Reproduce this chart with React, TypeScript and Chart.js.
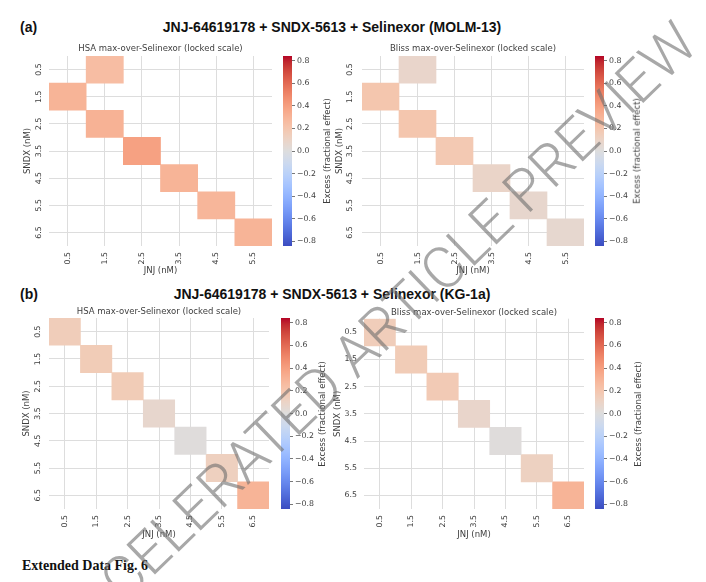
import React, { useEffect, useRef } from "react";
import { Chart, registerables } from "chart.js";

Chart.register(...registerables);

// ---------------- DATA ----------------
const SNDX_LABELS = ["0.5", "1.5", "2.5", "3.5", "4.5", "5.5", "6.5"];
const JNJ_LABELS_MOLM = ["0.5", "1.5", "2.5", "3.5", "4.5", "5.5"];
const JNJ_LABELS_KG = ["0.5", "1.5", "2.5", "3.5", "4.5", "5.5", "6.5"];
const CBAR_TICKS = [-0.8, -0.6, -0.4, -0.2, 0, 0.2, 0.4, 0.6, 0.8];
const V_LIMIT = 0.84;

// rows = SNDX, cols = JNJ
const molmHsa: (number | null)[][] = [
  [null, 0.25, null, null, null, null],
  [0.3, null, null, null, null, null],
  [null, 0.31, null, null, null, null],
  [null, null, 0.39, null, null, null],
  [null, null, null, 0.3, null, null],
  [null, null, null, null, 0.29, null],
  [null, null, null, null, null, 0.3],
];
const molmBliss: (number | null)[][] = [
  [null, 0.08, null, null, null, null],
  [0.2, null, null, null, null, null],
  [null, 0.2, null, null, null, null],
  [null, null, 0.18, null, null, null],
  [null, null, null, 0.09, null, null],
  [null, null, null, null, 0.07, null],
  [null, null, null, null, null, 0.06],
];
const kgHsa: (number | null)[][] = [
  [0.15, null, null, null, null, null, null],
  [null, 0.16, null, null, null, null, null],
  [null, null, 0.16, null, null, null, null],
  [null, null, null, 0.07, null, null, null],
  [null, null, null, null, 0.01, null, null],
  [null, null, null, null, null, 0.13, null],
  [null, null, null, null, null, null, 0.3],
];
const kgBliss: (number | null)[][] = [
  [0.15, null, null, null, null, null, null],
  [null, 0.16, null, null, null, null, null],
  [null, null, 0.17, null, null, null, null],
  [null, null, null, 0.08, null, null, null],
  [null, null, null, null, 0.01, null, null],
  [null, null, null, null, null, 0.12, null],
  [null, null, null, null, null, null, 0.3],
];

// ---------------- STYLE ----------------
const FONT = "'DejaVu Sans', sans-serif";
const TEXT = "#3e3e3e";
const TICK_SIZE = 7.8;
const LABEL_SIZE = 8.5;
const GRID = "#dddddd";

const COOLWARM: number[][] = [
  [59, 76, 192], [68, 90, 204], [77, 104, 215], [87, 117, 225], [98, 130, 234],
  [108, 142, 241], [119, 154, 247], [130, 165, 251], [141, 176, 254], [152, 185, 255],
  [163, 194, 255], [174, 201, 253], [184, 208, 249], [194, 213, 244], [204, 217, 238],
  [213, 219, 230], [221, 221, 221], [229, 216, 209], [236, 211, 197], [241, 204, 184],
  [245, 196, 172], [247, 187, 160], [247, 177, 148], [247, 166, 135], [244, 154, 123],
  [241, 141, 111], [236, 127, 99], [229, 112, 88], [222, 96, 77], [213, 80, 66],
  [203, 62, 56], [192, 40, 47], [180, 4, 38],
];

function cw(t: number): string {
  const tt = Math.max(0, Math.min(1, t)) * (COOLWARM.length - 1);
  const i = Math.min(Math.floor(tt), COOLWARM.length - 2);
  const f = tt - i;
  const a = COOLWARM[i], b = COOLWARM[i + 1];
  const c = a.map((x, k) => Math.round(x + (b[k] - x) * f));
  return `rgb(${c[0]},${c[1]},${c[2]})`;
}
function colorFor(v: number): string {
  return cw((v + V_LIMIT) / (2 * V_LIMIT));
}
function fmt(v: number): string {
  return (v < -1e-9 ? "\u2212" : "") + Math.abs(v).toFixed(1);
}

type Rect = { l: number; t: number; r: number; b: number };

type HeatProps = {
  plot: Rect;
  xLabels: string[];
  yLabels: string[];
  values: (number | null)[][];
  title: string;
  rotateY: boolean;
  yTitleX: number;
  titleY: number;
  xTitleY: number;
  yTickPad: number;
  xTickPad: number;
};

function Heatmap(p: HeatProps) {
  const ref = useRef<HTMLCanvasElement>(null);
  const lh = LABEL_SIZE * 1.2;
  const cl = Math.round(p.yTitleX - lh / 2);
  const ct = Math.round(p.titleY - lh / 2);
  const cr = p.plot.r;
  const cb = Math.round(p.xTitleY + lh / 2);
  const w = cr - cl;
  const h = cb - ct;
  const yAxisW = p.plot.l - cl;
  const xAxisH = cb - p.plot.b;
  const titlePadBottom = Math.max(0, p.plot.t - ct - lh);

  useEffect(() => {
    const tickFont = { family: FONT, size: TICK_SIZE };
    const labelFont = { family: FONT, size: LABEL_SIZE };
    const chart = new Chart(ref.current!, {
      type: "bar",
      data: {
        labels: p.xLabels,
        datasets: p.values.map((row, r) => ({
          data: row.map((v) => (v == null ? null : [r - 0.5, r + 0.5])) as any,
          backgroundColor: row.map((v) => (v == null ? "rgba(0,0,0,0)" : colorFor(v))),
          borderWidth: 0,
          barPercentage: 1,
          categoryPercentage: 1,
          grouped: false,
        })),
      },
      options: {
        responsive: false,
        animation: false,
        devicePixelRatio: 1,
        layout: { padding: 0 },
        plugins: {
          legend: { display: false },
          tooltip: { enabled: false },
          title: {
            display: true,
            text: p.title,
            fullSize: false,
            color: TEXT,
            font: { family: FONT, size: LABEL_SIZE, weight: "normal" },
            padding: { top: 0, bottom: titlePadBottom },
          },
        },
        scales: {
          x: {
            type: "category",
            offset: true,
            grid: { offset: false, color: GRID, lineWidth: 1, drawTicks: false },
            border: { display: false },
            ticks: {
              font: tickFont,
              color: TEXT,
              padding: p.xTickPad,
              minRotation: 90,
              maxRotation: 90,
              autoSkip: false,
            },
            title: { display: true, text: "JNJ (nM)", font: labelFont, color: TEXT, padding: 0 },
            afterFit: (s: any) => {
              s.height = xAxisH;
            },
          },
          y: {
            type: "linear",
            min: -0.5,
            max: p.yLabels.length - 0.5,
            reverse: true,
            afterBuildTicks: (s: any) => {
              s.ticks = p.yLabels.map((_, i) => ({ value: i }));
            },
            grid: { color: GRID, lineWidth: 1, drawTicks: false },
            border: { display: false },
            ticks: {
              font: tickFont,
              color: TEXT,
              padding: p.yTickPad,
              minRotation: p.rotateY ? 90 : 0,
              maxRotation: p.rotateY ? 90 : 0,
              crossAlign: p.rotateY ? "center" : "near",
              autoSkip: false,
              callback: (_v: any, i: number) => p.yLabels[i],
            },
            title: { display: true, text: "SNDX (nM)", font: labelFont, color: TEXT, padding: 0 },
            afterFit: (s: any) => {
              s.width = yAxisW;
            },
          },
        },
      } as any,
    });
    return () => chart.destroy();
  }, []);

  return (
    <canvas
      ref={ref}
      width={w}
      height={h}
      style={{ position: "absolute", left: cl, top: ct, width: w, height: h }}
    />
  );
}

type CbarProps = { l: number; r: number; t: number; b: number; labelX: number };

function Colorbar(p: CbarProps) {
  const ref = useRef<HTMLCanvasElement>(null);
  const pad = 8;
  const W = 44;
  const barW = p.r - p.l;
  const H = p.b - p.t + 2 * pad;
  useEffect(() => {
    const chart = new Chart(ref.current!, {
      type: "bar",
      data: {
        labels: [""],
        datasets: [
          {
            data: [[-V_LIMIT, V_LIMIT]] as any,
            borderWidth: 0,
            barPercentage: 1,
            categoryPercentage: 1,
            backgroundColor: (ctx: any) => {
              const c = ctx.chart;
              const ys = c.scales.y;
              if (!c.chartArea || !ys) return "#ddd";
              const y0 = ys.getPixelForValue(-V_LIMIT);
              const y1 = ys.getPixelForValue(V_LIMIT);
              const g = c.ctx.createLinearGradient(0, y0, 0, y1);
              COOLWARM.forEach((_, i) => {
                const t = i / (COOLWARM.length - 1);
                g.addColorStop(t, cw(t));
              });
              return g;
            },
          },
        ],
      },
      options: {
        responsive: false,
        animation: false,
        devicePixelRatio: 1,
        layout: { padding: { top: pad, bottom: pad, left: 0, right: 0 } },
        plugins: { legend: { display: false }, tooltip: { enabled: false } },
        scales: {
          x: { display: false, offset: true },
          y: {
            position: "right",
            min: -V_LIMIT,
            max: V_LIMIT,
            afterBuildTicks: (s: any) => {
              s.ticks = CBAR_TICKS.map((v) => ({ value: v }));
            },
            grid: { drawOnChartArea: false, drawTicks: true, tickLength: 3, color: "#555", lineWidth: 0.8 },
            border: { display: false },
            ticks: {
              font: { family: FONT, size: TICK_SIZE },
              color: TEXT,
              padding: 2,
              autoSkip: false,
              callback: (v: any) => fmt(Number(v)),
            },
            afterFit: (s: any) => {
              s.width = W - barW;
            },
          },
        },
      } as any,
    });
    return () => chart.destroy();
  }, []);
  return (
    <>
      <canvas
        ref={ref}
        width={W}
        height={H}
        style={{ position: "absolute", left: p.l, top: p.t - pad, width: W, height: H }}
      />
      <div
        style={{
          position: "absolute",
          left: p.labelX,
          top: (p.t + p.b) / 2,
          transform: "translate(-50%, -50%) rotate(-90deg)",
          whiteSpace: "nowrap",
          fontFamily: FONT,
          fontSize: LABEL_SIZE,
          color: TEXT,
          lineHeight: 1,
        }}
      >
        Excess (fractional effect)
      </div>
    </>
  );
}

const boldSans: React.CSSProperties = {
  position: "absolute",
  fontFamily: "'Liberation Sans', Arial, sans-serif",
  fontWeight: "bold",
  fontSize: 14,
  color: "#111",
  whiteSpace: "nowrap",
  lineHeight: 1,
};

export default function App() {
  return (
    <div
      style={{
        position: "absolute",
        left: 0,
        top: 0,
        width: 706,
        height: 582,
        background: "#fff",
        overflow: "hidden",
      }}
    >
      <div style={{ ...boldSans, left: 20, top: 27, transform: "translateY(-50%)" }}>(a)</div>
      <div style={{ ...boldSans, left: 332, top: 27, transform: "translate(-50%, -50%)" }}>
        JNJ-64619178 + SNDX-5613 + Selinexor (MOLM-13)
      </div>
      <div style={{ ...boldSans, left: 20, top: 294, transform: "translateY(-50%)" }}>(b)</div>
      <div style={{ ...boldSans, left: 332, top: 294, transform: "translate(-50%, -50%)" }}>
        JNJ-64619178 + SNDX-5613 + Selinexor (KG-1a)
      </div>

      <Heatmap
        plot={{ l: 49, t: 56, r: 272, b: 246 }}
        xLabels={JNJ_LABELS_MOLM}
        yLabels={SNDX_LABELS}
        values={molmHsa}
        title="HSA max-over-Selinexor (locked scale)"
        rotateY={true}
        yTitleX={28}
        titleY={49}
        xTitleY={271}
        yTickPad={3.8}
        xTickPad={6}
      />
      <Colorbar l={283} r={292} t={56} b={246} labelX={327} />

      <Heatmap
        plot={{ l: 362, t: 56, r: 584, b: 246 }}
        xLabels={JNJ_LABELS_MOLM}
        yLabels={SNDX_LABELS}
        values={molmBliss}
        title="Bliss max-over-Selinexor (locked scale)"
        rotateY={true}
        yTitleX={340}
        titleY={49}
        xTitleY={271}
        yTickPad={5.8}
        xTickPad={6}
      />
      <Colorbar l={595} r={604} t={56} b={246} labelX={637} />

      <Heatmap
        plot={{ l: 49, t: 318, r: 269, b: 509 }}
        xLabels={JNJ_LABELS_KG}
        yLabels={SNDX_LABELS}
        values={kgHsa}
        title="HSA max-over-Selinexor (locked scale)"
        rotateY={true}
        yTitleX={27}
        titleY={312}
        xTitleY={535}
        yTickPad={4.5}
        xTickPad={6}
      />
      <Colorbar l={281} r={290} t={318} b={509} labelX={322} />

      <Heatmap
        plot={{ l: 364, t: 318, r: 584, b: 509 }}
        xLabels={JNJ_LABELS_KG}
        yLabels={SNDX_LABELS}
        values={kgBliss}
        title="Bliss max-over-Selinexor (locked scale)"
        rotateY={false}
        yTitleX={338}
        titleY={312}
        xTitleY={535}
        yTickPad={7}
        xTickPad={6}
      />
      <Colorbar l={595} r={604} t={318} b={509} labelX={638} />

      <div
        style={{
          position: "absolute",
          left: 22,
          top: 566,
          transform: "translateY(-50%)",
          fontFamily: "'Liberation Serif', 'Times New Roman', serif",
          fontWeight: "bold",
          fontSize: 14,
          color: "#111",
          whiteSpace: "nowrap",
          lineHeight: 1,
        }}
      >
        Extended Data Fig. 6
      </div>

      <div
        style={{
          position: "absolute",
          left: 372,
          top: 337,
          transform: "translate(-50%, -50%) rotate(-44deg)",
          fontFamily: "Roboto, 'DejaVu Sans', sans-serif",
          fontWeight: 300,
          fontSize: 58,
          color: "rgba(110,110,110,0.6)",
          whiteSpace: "nowrap",
          lineHeight: 1,
          pointerEvents: "none",
        }}
      >
        ACCELERATED ARTICLE PREVIEW
      </div>
    </div>
  );
}
